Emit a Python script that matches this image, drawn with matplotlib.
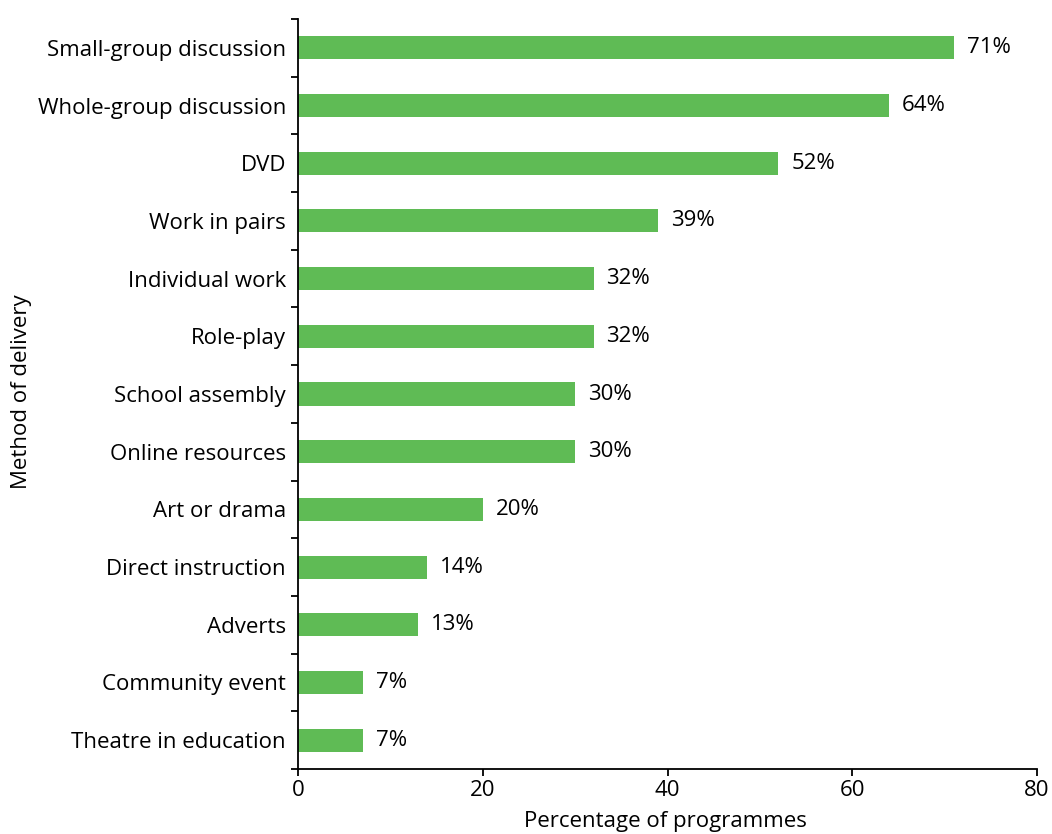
import matplotlib
matplotlib.use("Agg")
import matplotlib.pyplot as plt
import numpy as np

categories = ["Small-group discussion", "Whole-group discussion", "DVD", "Work in pairs",
              "Individual work", "Role-play", "School assembly", "Online resources",
              "Art or drama", "Direct instruction", "Adverts", "Community event",
              "Theatre in education"]
values = [71, 64, 52, 39, 32, 32, 30, 30, 20, 14, 13, 7, 7]
xticks = [0, 20, 40, 60, 80]

plt.rcParams['font.family'] = ['Open Sans', 'DejaVu Sans']
FS = 16
fig = plt.figure(figsize=(10.52, 8.34), dpi=100)
ax = fig.add_axes([298/1052, 1-769/834, (1037-298)/1052, (769-19)/834])

n = len(categories)
y = np.arange(n)
ax.barh(y, values, height=0.4, color="#5FBB55")
for yi, v in zip(y, values):
    ax.text(v + 1.4, yi, f"{v}%", va="center", ha="left", fontsize=FS)

ax.set_ylim(n - 0.5, -0.5)
ax.set_xlim(0, 80)
ax.set_xticks(xticks)
ax.set_xticklabels([str(t) for t in xticks], fontsize=FS)
ax.set_yticks(y)
ax.set_yticklabels(categories, fontsize=FS)
ax.tick_params(axis='y', which='major', length=0, pad=8.6)
ax.set_yticks(np.arange(-0.5, n, 1.0), minor=True)
ax.tick_params(axis='y', which='minor', length=5, width=1.3)
ax.tick_params(axis='x', which='major', length=5, width=1.3, pad=3)
for s in ['top', 'right']:
    ax.spines[s].set_visible(False)
for s in ['left', 'bottom']:
    ax.spines[s].set_linewidth(1.3)
ax.set_xlabel("Percentage of programmes", fontsize=FS)
ax.xaxis.set_label_coords(0.497, (769 - 832) / 750)
ax.xaxis.label.set_verticalalignment('bottom')
ax.set_ylabel("Method of delivery", fontsize=FS)
ax.yaxis.set_label_coords((22 - 298) / 739, 0.503)
ax.yaxis.label.set_verticalalignment('center')

fig.savefig("out.png", dpi=100)
